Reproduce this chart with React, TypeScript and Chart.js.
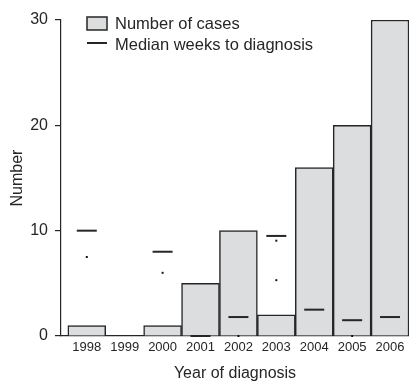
import React, { useEffect, useRef } from "react";
import { Chart, registerables } from "chart.js";

Chart.register(...registerables);

const years = [1998, 1999, 2000, 2001, 2002, 2003, 2004, 2005, 2006];
const cases = [1, 0, 1, 5, 10, 2, 16, 20, 30];
const medianYears = [1998, 2000, 2001, 2002, 2003, 2004, 2005, 2006];
const medianWeeks = [10, 8, 0, 1.8, 9.5, 2.5, 1.5, 1.8];
const dotYears = [1998, 2000, 2002, 2003, 2003, 2005];
const dotValues = [7.5, 6, 0, 9.05, 5.3, 0];
const yTicks = [0, 10, 20, 30];
const legendLabels = ["Number of cases", "Median weeks to diagnosis"];

const FONT = "'Liberation Sans', Arial, Helvetica, sans-serif";
const BAR_FILL = "#dcdddf";
const INK = "#262626";

const legendPlugin = {
  id: "customLegend",
  afterDraw(chart: any) {
    const ctx = chart.ctx;
    ctx.save();
    ctx.fillStyle = BAR_FILL;
    ctx.strokeStyle = INK;
    ctx.lineWidth = 1.5;
    ctx.fillRect(87, 17, 20, 13);
    ctx.strokeRect(87, 17, 20, 13);
    ctx.lineWidth = 2;
    ctx.beginPath();
    ctx.moveTo(87, 43);
    ctx.lineTo(107, 43);
    ctx.stroke();
    ctx.fillStyle = INK;
    ctx.font = `16.5px ${FONT}`;
    ctx.textBaseline = "middle";
    ctx.textAlign = "left";
    ctx.fillText(legendLabels[0], 115, 24);
    ctx.fillText(legendLabels[1], 115, 45);
    ctx.restore();
  },
};

export default function App() {
  const ref = useRef<HTMLCanvasElement>(null);
  useEffect(() => {
    document.body.style.margin = "0";
    const canvas = ref.current!;
    const chart = new Chart(canvas, {
      type: "bar",
      data: {
        datasets: [
          {
            type: "scatter",
            label: "Median weeks to diagnosis",
            data: medianYears.map((x, i) => ({ x, y: medianWeeks[i] })),
            pointStyle: "line",
            radius: 10,
            borderWidth: 2,
            borderColor: INK,
            backgroundColor: INK,
            order: 0,
            clip: false,
          } as any,
          {
            type: "scatter",
            label: "dots",
            data: dotYears.map((x, i) => ({ x, y: dotValues[i] })),
            pointStyle: "rect",
            radius: 1.4,
            borderWidth: 0,
            backgroundColor: "#111",
            order: 1,
            clip: false,
          } as any,
          {
            type: "bar",
            label: "Number of cases",
            data: years.map((x, i) => ({ x, y: cases[i] })),
            backgroundColor: BAR_FILL,
            borderColor: INK,
            borderWidth: 1.5,
            barPercentage: 1,
            categoryPercentage: 1,
            order: 2,
          } as any,
        ],
      },
      options: {
        animation: false,
        responsive: false,
        devicePixelRatio: 1,
        layout: { autoPadding: false, padding: { top: 20, left: 0, right: 0, bottom: 0 } },
        plugins: { legend: { display: false }, tooltip: { enabled: false } },
        font: { family: FONT },
        scales: {
          x: {
            type: "linear",
            offset: false,
            min: 1997.32,
            max: 2006.5,
            grid: { display: false, drawTicks: false, offset: false },
            border: { display: true, color: INK, width: 1.2 },
            ticks: {
              stepSize: 1,
              includeBounds: false,
              autoSkip: false,
              maxRotation: 0,
              padding: 4,
              color: INK,
              font: { family: FONT, size: 13 },
              callback: (v: any) => String(v),
            },
            title: {
              display: true,
              text: "Year of diagnosis",
              color: INK,
              font: { family: FONT, size: 16 },
              padding: { top: 0, bottom: -2 },
            },
            afterFit: (s: any) => {
              s.height = 45;
              s.paddingLeft = 0;
              s.paddingRight = 0;
            },
          },
          y: {
            type: "linear",
            min: 0,
            max: 30,
            afterBuildTicks: (s: any) => {
              s.ticks = yTicks.map((v) => ({ value: v }));
            },
            grid: {
              drawOnChartArea: false,
              drawTicks: true,
              tickLength: 6,
              color: INK,
              lineWidth: 1.2,
            },
            border: { display: true, color: INK, width: 1.2 },
            ticks: {
              padding: 7,
              color: INK,
              font: { family: FONT, size: 16 },
            },
            title: {
              display: true,
              text: "Number",
              color: INK,
              font: { family: FONT, size: 16 },
              padding: { top: 8, bottom: 0 },
            },
            afterFit: (s: any) => {
              s.width = 61;
            },
          },
        },
      } as any,
      plugins: [legendPlugin],
    });
    return () => chart.destroy();
  }, []);
  return (
    <div style={{ position: "absolute", left: 0, top: 0, width: 409, height: 381 }}>
      <canvas ref={ref} width={409} height={381} style={{ display: "block" }} />
    </div>
  );
}
